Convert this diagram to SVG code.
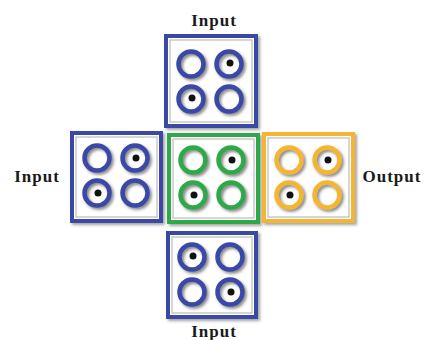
<svg xmlns="http://www.w3.org/2000/svg" width="425" height="340" viewBox="0 0 425 340">
<defs>
<filter id="sh" x="-20%" y="-20%" width="150%" height="150%">
<feDropShadow dx="2" dy="2" stdDeviation="1.6" flood-color="#555" flood-opacity="0.7"/>
</filter>
<filter id="bsh" x="-10%" y="-10%" width="125%" height="125%">
<feDropShadow dx="2" dy="2" stdDeviation="1.5" flood-color="#666" flood-opacity="0.6"/>
</filter>
</defs>
<style>
.box{fill:#fff;stroke-width:4;filter:url(#bsh)}
.inner{fill:none;stroke:#bbb;stroke-width:1.2}
.ring{fill:none;stroke-width:4.5;filter:url(#sh)}
.dot{fill:#111}
.blue{stroke:#3a49a6}
.green{stroke:#2fa84a}
.yellow{stroke:#f4b630}
.lbl{font-family:"Liberation Serif",serif;font-weight:bold;font-size:17px;fill:#1a1a1a;text-anchor:middle;letter-spacing:1px}
</style>
<rect width="425" height="340" fill="#fff"/>
<g id="top">
<rect class="box blue" x="166" y="36" width="90" height="90"/>
<rect class="inner" x="170" y="40" width="82" height="82"/>
<circle class="ring blue" cx="191" cy="64" r="12.5"/>
<circle class="ring blue" cx="229" cy="64" r="12.5"/>
<circle class="ring blue" cx="191" cy="99" r="12.5"/>
<circle class="ring blue" cx="229" cy="99" r="12.5"/>
<circle class="dot" cx="230" cy="63" r="3.5"/>
<circle class="dot" cx="192" cy="98" r="3.5"/>
</g>
<g id="left">
<rect class="box blue" x="72" y="133" width="89" height="88"/>
<rect class="inner" x="76" y="137" width="81" height="80"/>
<circle class="ring blue" cx="97" cy="158" r="12.5"/>
<circle class="ring blue" cx="135" cy="158" r="12.5"/>
<circle class="ring blue" cx="97" cy="193" r="12.5"/>
<circle class="ring blue" cx="135" cy="193" r="12.5"/>
<circle class="dot" cx="136" cy="158" r="3.5"/>
<circle class="dot" cx="98" cy="193" r="3.5"/>
</g>
<g id="center">
<rect class="box green" x="169" y="135" width="89" height="87"/>
<rect class="inner" x="173" y="139" width="81" height="79"/>
<circle class="ring green" cx="193" cy="160" r="12.5"/>
<circle class="ring green" cx="231" cy="160" r="12.5"/>
<circle class="ring green" cx="193" cy="195" r="12.5"/>
<circle class="ring green" cx="231" cy="195" r="12.5"/>
<circle class="dot" cx="232" cy="160" r="3.5"/>
<circle class="dot" cx="194" cy="195" r="3.5"/>
</g>
<g id="right">
<rect class="box yellow" x="264" y="134" width="89" height="87"/>
<rect class="inner" x="268" y="138" width="81" height="79"/>
<circle class="ring yellow" cx="289" cy="160" r="12.5"/>
<circle class="ring yellow" cx="327" cy="160" r="12.5"/>
<circle class="ring yellow" cx="289" cy="195" r="12.5"/>
<circle class="ring yellow" cx="327" cy="195" r="12.5"/>
<circle class="dot" cx="328" cy="160" r="3.5"/>
<circle class="dot" cx="290" cy="195" r="3.5"/>
</g>
<g id="bottom">
<rect class="box blue" x="168" y="233" width="88" height="84"/>
<rect class="inner" x="172" y="237" width="80" height="76"/>
<circle class="ring blue" cx="192" cy="257" r="12.5"/>
<circle class="ring blue" cx="230" cy="257" r="12.5"/>
<circle class="ring blue" cx="192" cy="292" r="12.5"/>
<circle class="ring blue" cx="230" cy="292" r="12.5"/>
<circle class="dot" cx="193" cy="256" r="3.5"/>
<circle class="dot" cx="231" cy="292" r="3.5"/>
</g>
<g id="labels">
<text class="lbl" x="214" y="26">Input</text>
<text class="lbl" x="37" y="182">Input</text>
<text class="lbl" x="392" y="182">Output</text>
<text class="lbl" x="214" y="337">Input</text>
</g>
</svg>
